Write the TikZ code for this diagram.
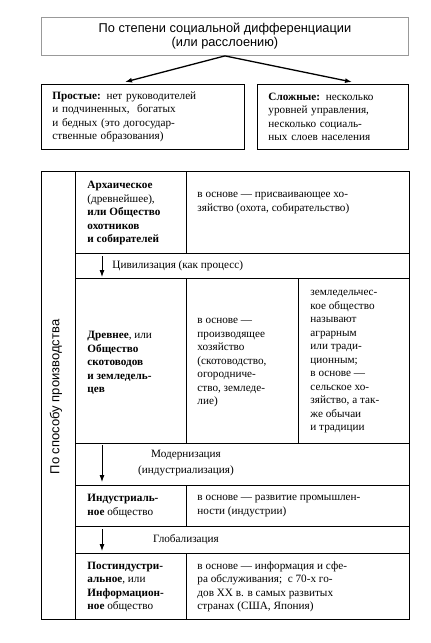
\documentclass[tikz,border=0pt]{standalone}
\usepackage{fontspec}
\setmainfont{Liberation Serif}
\setsansfont{Liberation Sans}
\usetikzlibrary{arrows.meta}

\begin{document}
\begin{tikzpicture}[x=1pt,y=-1pt,line width=.9pt]
  \tikzstyle{txt}=[inner sep=0pt,anchor=west,align=left,font=\fontsize{11.2}{13.5}\selectfont]
  \tikzstyle{kind}=[draw,anchor=north west,inner xsep=11pt,minimum height=65pt,align=left,font=\fontsize{11.2}{13.5}\selectfont]
  \tikzstyle{arr}=[-{Latex[length=7pt,width=5pt]}]
  \useasboundingbox (0,0) rectangle (431,643);
  % top part
  \node[draw=gray!80,anchor=north west,minimum width=367pt,minimum height=38pt,align=center,
        font=\sffamily\fontsize{12.8}{14}\selectfont] (head) at (41,17)
    {По степени социальной дифференциации\\(или расслоению)};
  \node[kind,text width=181pt] (simple) at (41,84)
    {\textbf{Простые:} нет руководителей\\и подчиненных,\ \ богатых\\и бедных (это догосудар-\\ственные образования)};
  \node[kind,text width=129pt] (complex) at (257,84)
    {\textbf{Сложные:} несколько\\уровней управления,\\несколько социаль-\\ных слоев населения};
  \coordinate (sl) at (125,82);
  \coordinate (cl) at (352,82);
  \draw[arr,line width=1.3pt] (head.south) -- (sl);
  \draw[arr,line width=1.3pt] (head.south) -- (cl);
  % table
  \draw (41,171) rectangle (75,619);
  \draw (75,171) rectangle (409,619);
  \foreach \y in {253,278,443,485,526,553}
     \draw (75,\y) -- (409,\y);
  \foreach \a / \b in {171/253,278/443,485/526,553/619}
     \draw (186,\a) -- (186,\b);
  \draw (298,278) -- (298,443);
  \node[rotate=90,inner sep=0pt,font=\sffamily\fontsize{13}{14}\selectfont] (mode) at (56,397) {По способу производства};
  % rows
  \node[txt] (arch) at (87,213) {\textbf{Архаическое}\\(древнейшее),\\\textbf{или Общество}\\\textbf{охотников}\\\textbf{и собирателей}};
  \node[txt] (archb) at (197,203) {в основе — присваивающее хо-\\зяйство (охота, собирательство)};
  \node[txt] (anc) at (87,363) {\textbf{Древнее}, или\\\textbf{Общество}\\\textbf{скотоводов}\\\textbf{и земледель-}\\\textbf{цев}};
  \node[txt] (ancb) at (197,363) {в основе —\\производящее\\хозяйство\\(скотоводство,\\огородниче-\\ство, земледе-\\лие)};
  \node[txt] (ancc) at (310,362) {земледельчес-\\кое общество\\называют\\аграрным\\или тради-\\ционным;\\в основе —\\сельское хо-\\зяйство, а так-\\же обычаи\\и традиции};
  \node[txt] (ind) at (87,506) {\textbf{Индустриаль-}\\\textbf{ное} общество};
  \node[txt] (indb) at (197,506) {в основе — развитие промышлен-\\ности (индустрии)};
  \node[txt] (post) at (87,587) {\textbf{Постиндустри-}\\\textbf{альное}, или\\\textbf{Информацион-}\\\textbf{ное} общество};
  \node[txt] (postb) at (197,587) {в основе — информация и сфе-\\ра обслуживания;\ \ с 70-х го-\\дов XX в. в самых развитых\\странах (США, Япония)};
  % transitions
  \node[txt] (civ) at (112,266) {Цивилизация (как процесс)};
  \node[txt,anchor=center,align=center] (mod) at (186,463) {Модернизация\\[3pt](индустриализация)};
  \node[txt,anchor=center] (glob) at (186,540) {Глобализация};
  \foreach \n / \a / \b in {c/256/277,m/445/482,g/529/551} {
     \coordinate (\n1) at (102,\a);
     \coordinate (\n2) at (102,\b);
     \draw[arr] (\n1) -- (\n2);
  }
\end{tikzpicture}
\end{document}
